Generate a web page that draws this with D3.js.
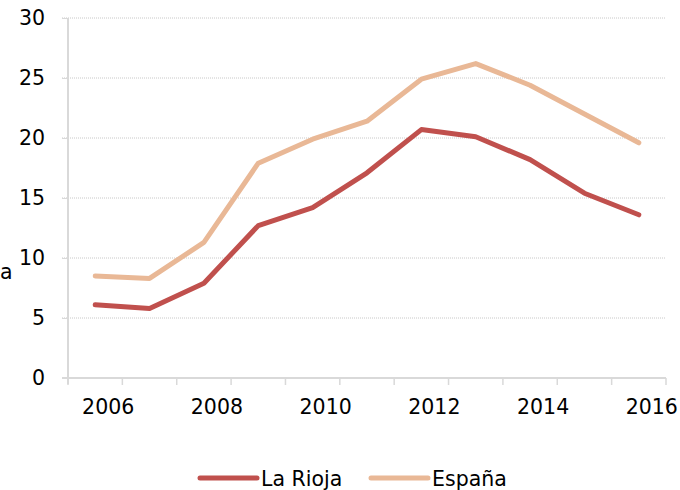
<!DOCTYPE html>
<html>
<head>
<meta charset="utf-8">
<script src="https://cdn.jsdelivr.net/npm/d3@7"></script>
<style>
  body { margin: 0; background: #fff; }
  text { font-family: "DejaVu Sans", Verdana, sans-serif; fill: #000; }
</style>
</head>
<body>
<div id="chart"></div>
<script>
var years = [2006, 2007, 2008, 2009, 2010, 2011, 2012, 2013, 2014, 2015, 2016];
var laRioja = [6.1, 5.8, 7.9, 12.7, 14.2, 17.1, 20.7, 20.1, 18.2, 15.4, 13.6];
var espana = [8.5, 8.3, 11.3, 17.9, 19.9, 21.4, 24.9, 26.2, 24.4, 22.0, 19.6];
var yTicks = [0, 5, 10, 15, 20, 25, 30];
var seriesNames = ["La Rioja", "España"];
var seriesColors = ["#C0504D", "#E9B896"];

var width = 680,
  height = 490;

var svg = d3.select('#chart')
  .append('svg')
  .attr('width', width)
  .attr('height', height)

var x = d3.scaleBand().domain(years).range([68, 666]).padding(0)
var y = d3.scaleLinear().domain([0, 30]).range([378, 18])

// gridlines (dotted)
svg.append('g')
  .selectAll('line')
  .data(yTicks.filter(d => d > 0))
  .join('line')
  .attr('x1', 62)
  .attr('x2', 666)
  .attr('y1', d => y(d))
  .attr('y2', d => y(d))
  .attr('stroke', '#c8c8c8')
  .attr('stroke-width', 1)
  .attr('stroke-dasharray', '1,1')

// y axis
var yAxis = svg.append('g')
  .attr('transform', 'translate(68,0)')
  .call(d3.axisLeft(y).tickValues(yTicks).tickSize(6).tickPadding(17))
yAxis.select('.domain').attr('stroke', '#d9d9d9').attr('stroke-width', 2)
  .attr('d', 'M0,18V384')
yAxis.selectAll('.tick line').attr('stroke', '#d9d9d9').attr('stroke-width', 1)
yAxis.selectAll('.tick text')
  .style('font-family', '"DejaVu Sans", sans-serif')
  .style('font-size', '20.5px')
  .attr('fill', '#000')

// x axis with ticks on every band boundary
var xAxis = svg.append('g').attr('transform', 'translate(0,378)')
xAxis.append('line')
  .attr('x1', 62).attr('x2', 666)
  .attr('stroke', '#d9d9d9').attr('stroke-width', 2)
var bounds = years.map(d => x(d)).concat([x(years[years.length - 1]) + x.bandwidth()])
xAxis.selectAll('.xt')
  .data(bounds)
  .join('line')
  .attr('class', 'xt')
  .attr('x1', d => d).attr('x2', d => d)
  .attr('y1', 0).attr('y2', 7)
  .attr('stroke', '#d9d9d9').attr('stroke-width', 1.5)
xAxis.selectAll('.xl')
  .data(years.filter(d => d % 2 === 0))
  .join('text')
  .attr('class', 'xl')
  .attr('x', d => x(d) + x.bandwidth() / 2 + 13)
  .attr('y', 36)
  .attr('text-anchor', 'middle')
  .style('font-size', '20.5px')
  .text(d => d)

// axis title fragment at left edge
svg.append('text')
  .attr('x', 0)
  .attr('y', 279)
  .style('font-size', '20.5px')
  .text('a')

// lines
var line = d3.line()
  .x((d, i) => x(years[i]) + x.bandwidth() / 2)
  .y(d => y(d))

svg.append('g')
  .selectAll('path')
  .data([espana, laRioja])
  .join('path')
  .attr('d', d => line(d))
  .attr('fill', 'none')
  .attr('stroke', (d, i) => i === 0 ? seriesColors[1] : seriesColors[0])
  .attr('stroke-width', 5)
  .attr('stroke-linejoin', 'round')
  .attr('stroke-linecap', 'round')

// legend
var legendX = [200, 371]
var legend = svg.append('g')
  .selectAll('g')
  .data(seriesNames)
  .join('g')
  .attr('transform', (d, i) => 'translate(' + legendX[i] + ',478)')
legend.append('line')
  .attr('x1', 0).attr('x2', 57)
  .attr('stroke', (d, i) => seriesColors[i])
  .attr('stroke-width', 5)
  .attr('stroke-linecap', 'round')
legend.append('text')
  .attr('x', 61)
  .attr('y', 7.5)
  .style('font-size', '20.5px')
  .text(d => d)
</script>
</body>
</html>
